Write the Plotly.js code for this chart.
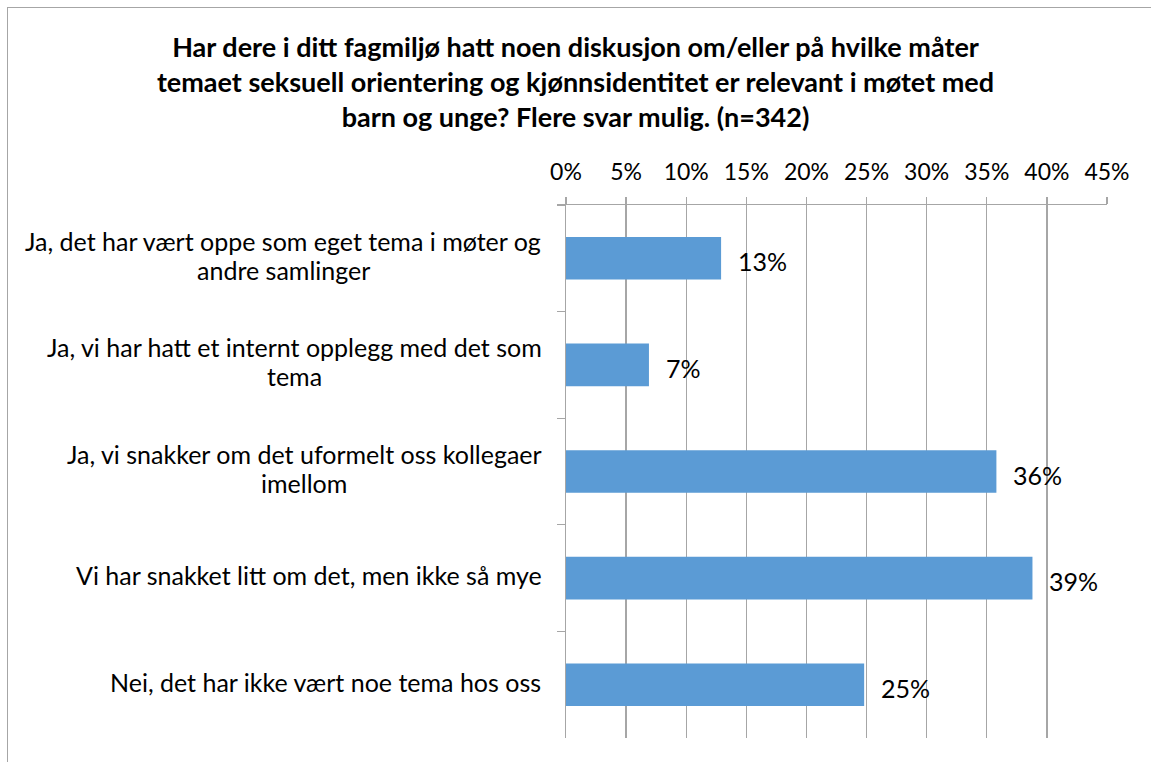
<!DOCTYPE html>
<html>
<head>
<meta charset="utf-8">
<script src="https://cdn.plot.ly/plotly-3.0.1.min.js"></script>
<style>
  html, body { margin: 0; padding: 0; background: #fff; }
  #chart { width: 1151px; height: 762px; position: relative; }
  #frame { position: absolute; left: 7px; top: 7px; width: 1160px; height: 770px;
           border-left: 1.5px solid #a6a6a6; border-top: 1.5px solid #a6a6a6; pointer-events: none; }
</style>
</head>
<body>
<div id="chart"></div>
<div id="frame"></div>
<script>
const categories = [
  "Ja, det har vært oppe som eget tema i møter og<br>andre samlinger",
  "Ja, vi har hatt et internt opplegg med det som<br>tema",
  "Ja, vi snakker om det uformelt oss kollegaer<br>imellom",
  "Vi har snakket litt om det, men ikke så mye",
  "Nei, det har ikke vært noe tema hos oss"
];
const values = [12.9, 6.9, 35.8, 38.8, 24.8];
const valueLabels = ["13%", "7%", "36%", "39%", "25%"];
const tickValues = [0, 5, 10, 15, 20, 25, 30, 35, 40, 45];
const tickLabels = ["0%", "5%", "10%", "15%", "20%", "25%", "30%", "35%", "40%", "45%"];
const titleText = "Har dere i ditt fagmiljø hatt noen diskusjon om/eller på hvilke måter<br>temaet seksuell orientering og kjønnsidentitet er relevant i møtet med<br>barn og unge? Flere svar mulig. (n=342)";

const FONT = "Lato, 'Open Sans', sans-serif";
const LABEL_SIZE = 25;
const LABEL_LINE = 29;
const GAP = 24;

const trace = {
  type: "bar",
  orientation: "h",
  x: values,
  y: categories,
  marker: { color: "#5b9bd5" },
  hoverinfo: "skip"
};

function buildAnnotations() {
  const measure = document.createElement("canvas").getContext("2d");
  measure.font = LABEL_SIZE + "px Lato";
  const anns = [];
  categories.forEach((c, i) => {
    const lines = c.split("<br>");
    const n = lines.length;
    const w = Math.max(...lines.map(l => measure.measureText(l).width));
    lines.forEach((ln, k) => {
      anns.push({
        xref: "paper", yref: "y", x: 0, y: c,
        xanchor: "center", yanchor: "middle",
        xshift: -(GAP + w / 2), yshift: ((n - 1) / 2 - k) * LABEL_LINE + 3,
        text: ln, showarrow: false,
        font: { family: FONT, size: LABEL_SIZE, color: "#000" }
      });
    });
    anns.push({
      xref: "x", yref: "y", x: values[i], y: c,
      xanchor: "left", yanchor: "middle", xshift: 15, yshift: -3,
      text: valueLabels[i], showarrow: false,
      font: { family: FONT, size: 25, color: "#000" }
    });
  });
  return anns;
}

function draw() {
  const layout = {
    width: 1151, height: 762,
    margin: { l: 566, r: 44, t: 205, b: 24, pad: 0 },
    paper_bgcolor: "#fff", plot_bgcolor: "#fff",
    showlegend: false,
    bargap: 0.6,
    title: {
      text: "<b>" + titleText + "</b>",
      x: 0.5, xref: "container", xanchor: "center",
      y: 0.925, yref: "container", yanchor: "middle",
      font: { family: FONT, size: 27, color: "#000" }
    },
    xaxis: {
      side: "top",
      range: [0, 45],
      tickvals: tickValues,
      ticktext: tickLabels,
      showgrid: true, gridcolor: "#a6a6a6", gridwidth: 1.3,
      showline: true, linecolor: "#a6a6a6", linewidth: 1.3,
      ticks: "outside", ticklen: 7, tickcolor: "#a6a6a6", tickwidth: 1.3,
      ticklabelstandoff: 8,
      zeroline: false,
      tickfont: { family: FONT, size: 23, color: "#000" },
      fixedrange: true
    },
    yaxis: {
      type: "category",
      autorange: "reversed",
      showticklabels: false,
      showgrid: false,
      showline: true, linecolor: "#a6a6a6", linewidth: 1.3,
      ticks: "outside", ticklen: 8, tickcolor: "#a6a6a6", tickwidth: 1.3,
      tickson: "boundaries",
      zeroline: false,
      fixedrange: true
    },
    annotations: buildAnnotations()
  };
  Plotly.newPlot("chart", [trace], layout, { displayModeBar: false, staticPlot: true });
}

if (document.fonts && document.fonts.load) {
  document.fonts.load(LABEL_SIZE + "px Lato").then(draw, draw);
} else {
  draw();
}
</script>
</body>
</html>
